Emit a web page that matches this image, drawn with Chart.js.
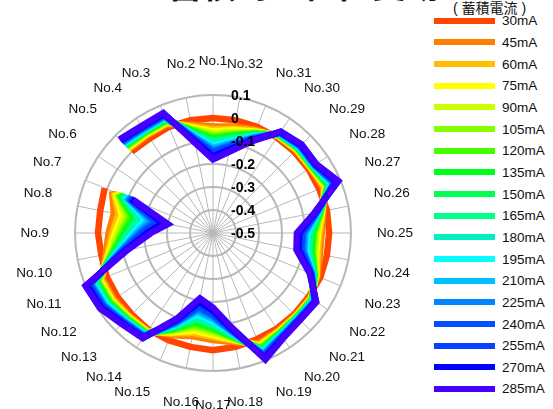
<!DOCTYPE html>
<html>
<head>
<meta charset="utf-8">
<script src="https://cdn.jsdelivr.net/npm/chart.js@4.4.1/dist/chart.umd.min.js"></script>
<style>
  html, body { margin: 0; padding: 0; background: #fff; overflow: hidden; }
  body { width: 553px; height: 409px; position: relative;
         font-family: "Liberation Sans", Arial, "Noto Sans CJK JP", sans-serif; color: #111; }
  #radar { position: absolute; left: 15px; top: 33px; }
  .title { position: absolute; font-weight: bold; white-space: nowrap; }
  #legendTitle { position: absolute; left: 453px; top: -3px; font-size: 14px; white-space: nowrap; }
  #legend { position: absolute; left: 434px; top: 10px; }
  .row { display: flex; align-items: center; height: 21.67px; font-size: 13.5px; }
  .sw { width: 61px; height: 6px; margin-right: 7px; }
</style>
</head>
<body>
<div class="title" style="left:66px; top:-33px; font-size:30px; line-height:30px">(a)</div>
<div class="title" style="left:168px; top:-31px; font-size:34px; line-height:34px">蓄積時の位置変動</div>
<div id="legendTitle">( 蓄積電流 )</div>
<div id="legend"></div>
<canvas id="radar" width="400" height="400"></canvas>

<script>
// 観測点 No.1 ～ No.32 (No.6 は欠測)
const points = Array.from({ length: 32 }, (_, i) => "No." + (i + 1));

const currents = ["30mA", "45mA", "60mA", "75mA", "90mA", "105mA", "120mA", "135mA", "150mA",
  "165mA", "180mA", "195mA", "210mA", "225mA", "240mA", "255mA", "270mA", "285mA"];

const colors = ["#ff4500", "#ff8000", "#ffbf00", "#ffff00", "#ccff00", "#88ff00", "#44ff00", "#00ff18",
  "#00ff50", "#00ff88", "#00f0c0", "#00ffff", "#00c0ff", "#0084ff", "#0050ff", "#0a40ff", "#0000ff", "#4400ff"];

// 位置変動 (No.1 → No.32)
const ma30  = [0, 0, 0, -0.005, 0, null, 0.01, 0, 0, -0.005, 0, 0, 0, 0.005, 0.005, 0.005, 0.01, 0.005, 0, 0, 0, 0, 0.005, 0.005, 0.005, 0.005, 0, 0, 0, 0, 0, 0];
const ma45  = [-0.036, -0.02, 0.013, 0.012, 0.015, null, -0.025, -0.06, -0.046, -0.024, 0.02, 0.018, 0.012, 0.01, -0.02, -0.042, -0.035, -0.016, 0.019, 0.01, 0.007, 0.008, -0.009, -0.026, -0.027, -0.01, 0.018, 0.008, 0.009, 0.006, -0.014, -0.028];
const ma60  = [-0.049, -0.027, 0.018, 0.016, 0.02, null, -0.034, -0.081, -0.062, -0.032, 0.027, 0.024, 0.016, 0.014, -0.027, -0.057, -0.047, -0.022, 0.026, 0.014, 0.009, 0.011, -0.012, -0.035, -0.036, -0.014, 0.024, 0.011, 0.012, 0.008, -0.019, -0.038];
const ma75  = [-0.058, -0.032, 0.021, 0.019, 0.024, null, -0.04, -0.096, -0.074, -0.038, 0.032, 0.029, 0.019, 0.016, -0.032, -0.067, -0.056, -0.026, 0.03, 0.016, 0.011, 0.013, -0.014, -0.042, -0.043, -0.016, 0.029, 0.013, 0.014, 0.01, -0.022, -0.045];
const ma90  = [-0.067, -0.037, 0.024, 0.022, 0.028, null, -0.046, -0.111, -0.085, -0.044, 0.037, 0.033, 0.022, 0.019, -0.037, -0.078, -0.065, -0.03, 0.035, 0.019, 0.013, 0.015, -0.017, -0.048, -0.05, -0.019, 0.033, 0.015, 0.017, 0.011, -0.026, -0.052];
const ma105 = [-0.076, -0.042, 0.027, 0.025, 0.032, null, -0.053, -0.126, -0.097, -0.05, 0.042, 0.038, 0.025, 0.021, -0.042, -0.088, -0.074, -0.034, 0.04, 0.021, 0.015, 0.017, -0.019, -0.055, -0.057, -0.021, 0.038, 0.017, 0.019, 0.013, -0.029, -0.059];
const ma120 = [-0.083, -0.046, 0.03, 0.028, 0.035, null, -0.058, -0.138, -0.106, -0.055, 0.046, 0.041, 0.028, 0.023, -0.046, -0.097, -0.081, -0.037, 0.044, 0.023, 0.016, 0.018, -0.021, -0.06, -0.062, -0.023, 0.041, 0.018, 0.021, 0.014, -0.032, -0.064];
const ma135 = [-0.09, -0.05, 0.033, 0.03, 0.038, null, -0.063, -0.15, -0.115, -0.06, 0.05, 0.045, 0.03, 0.025, -0.05, -0.105, -0.088, -0.04, 0.048, 0.025, 0.018, 0.02, -0.023, -0.065, -0.068, -0.025, 0.045, 0.02, 0.023, 0.015, -0.035, -0.07];
const ma150 = [-0.097, -0.054, 0.035, 0.032, 0.041, null, -0.068, -0.162, -0.124, -0.065, 0.054, 0.049, 0.032, 0.027, -0.054, -0.113, -0.095, -0.043, 0.051, 0.027, 0.019, 0.022, -0.024, -0.07, -0.073, -0.027, 0.049, 0.022, 0.024, 0.016, -0.038, -0.076];
const ma165 = [-0.104, -0.058, 0.038, 0.035, 0.044, null, -0.073, -0.174, -0.133, -0.07, 0.058, 0.052, 0.035, 0.029, -0.058, -0.122, -0.102, -0.046, 0.055, 0.029, 0.02, 0.023, -0.026, -0.075, -0.078, -0.029, 0.052, 0.023, 0.026, 0.017, -0.041, -0.081];
const ma180 = [-0.112, -0.062, 0.04, 0.037, 0.047, null, -0.078, -0.186, -0.143, -0.074, 0.062, 0.056, 0.037, 0.031, -0.062, -0.13, -0.109, -0.05, 0.059, 0.031, 0.022, 0.025, -0.028, -0.081, -0.084, -0.031, 0.056, 0.025, 0.028, 0.019, -0.043, -0.087];
const ma195 = [-0.121, -0.067, 0.044, 0.04, 0.05, null, -0.084, -0.201, -0.154, -0.08, 0.067, 0.06, 0.04, 0.034, -0.067, -0.141, -0.117, -0.054, 0.064, 0.034, 0.023, 0.027, -0.03, -0.087, -0.09, -0.034, 0.06, 0.027, 0.03, 0.02, -0.047, -0.094];
const ma210 = [-0.13, -0.072, 0.047, 0.043, 0.054, null, -0.09, -0.216, -0.166, -0.086, 0.072, 0.065, 0.043, 0.036, -0.072, -0.151, -0.126, -0.058, 0.068, 0.036, 0.025, 0.029, -0.032, -0.094, -0.097, -0.036, 0.065, 0.029, 0.032, 0.022, -0.05, -0.101];
const ma225 = [-0.139, -0.077, 0.05, 0.046, 0.058, null, -0.096, -0.231, -0.177, -0.092, 0.077, 0.069, 0.046, 0.039, -0.077, -0.162, -0.135, -0.062, 0.073, 0.039, 0.027, 0.031, -0.035, -0.1, -0.104, -0.039, 0.069, 0.031, 0.035, 0.023, -0.054, -0.108];
const ma240 = [-0.148, -0.082, 0.053, 0.049, 0.062, null, -0.103, -0.246, -0.189, -0.098, 0.082, 0.074, 0.049, 0.041, -0.082, -0.172, -0.144, -0.066, 0.078, 0.041, 0.029, 0.033, -0.037, -0.107, -0.111, -0.041, 0.074, 0.033, 0.037, 0.025, -0.057, -0.115];
const ma255 = [-0.157, -0.087, 0.057, 0.052, 0.065, null, -0.109, -0.261, -0.2, -0.104, 0.087, 0.078, 0.052, 0.044, -0.087, -0.183, -0.152, -0.07, 0.083, 0.044, 0.03, 0.035, -0.039, -0.113, -0.117, -0.044, 0.078, 0.035, 0.039, 0.026, -0.061, -0.122];
const ma270 = [-0.167, -0.093, 0.06, 0.056, 0.07, null, -0.116, -0.279, -0.214, -0.112, 0.093, 0.084, 0.056, 0.047, -0.093, -0.195, -0.163, -0.074, 0.088, 0.047, 0.033, 0.037, -0.042, -0.121, -0.126, -0.047, 0.084, 0.037, 0.042, 0.028, -0.065, -0.13];
const ma285 = [-0.18, -0.1, 0.065, 0.06, 0.075, null, -0.125, -0.3, -0.23, -0.12, 0.1, 0.09, 0.06, 0.05, -0.1, -0.21, -0.175, -0.08, 0.095, 0.05, 0.035, 0.04, -0.045, -0.13, -0.135, -0.05, 0.09, 0.04, 0.045, 0.03, -0.07, -0.14];

const series = [ma30, ma45, ma60, ma75, ma90, ma105, ma120, ma135, ma150,
  ma165, ma180, ma195, ma210, ma225, ma240, ma255, ma270, ma285];

const rMin = -0.5, rMax = 0.1, rStep = 0.1;

// No.1 が上、No.2 は左回り → Chart.js は右回りなので並べ替える
const ccw = arr => [arr[0], ...arr.slice(1).reverse()];

/* ---- tick labels to the right of the vertical axis ---- */
const tickLabelPlugin = {
  id: "tickLabels",
  afterDatasetsDraw(chart) {
    const scale = chart.scales.r;
    const ctx = chart.ctx;
    ctx.save();
    ctx.font = 'bold 14px "Liberation Sans", Arial';
    ctx.fillStyle = "#000";
    ctx.textAlign = "left";
    ctx.textBaseline = "middle";
    scale.ticks.forEach(t => {
      const y = scale.yCenter - scale.getDistanceFromCenterForValue(t.value);
      ctx.fillText(String(Math.round(t.value * 10) / 10), scale.xCenter + 18, y + 1.5);
    });
    ctx.restore();
  }
};

/* labels next to No.1 / No.17 sit centred on their spoke */
const centerLabelsPlugin = {
  id: "centerLabels",
  afterLayout(chart) {
    const items = chart.scales.r._pointLabelItems || [];
    const n = items.length;
    [1, n - 1, n / 2 - 1, n / 2 + 1].forEach(i => {
      if (items[i]) items[i].textAlign = "center";
    });
  }
};

const chart = new Chart(document.getElementById("radar"), {
  type: "radar",
  data: {
    labels: ccw(points),
    datasets: series.map((s, i) => ({
      label: currents[i],
      data: ccw(s),
      borderColor: colors[i],
      backgroundColor: colors[i],
      borderWidth: 6.5,
      borderJoinStyle: "miter",
      pointRadius: 0,
      fill: false,
      spanGaps: false,
      order: series.length - 1 - i
    }))
  },
  options: {
    responsive: false,
    animation: false,
    events: [],
    plugins: { legend: { display: false }, tooltip: { enabled: false } },
    scales: {
      r: {
        min: rMin,
        max: rMax,
        ticks: { display: false, stepSize: rStep },
        grid: { circular: true, color: "#b8b8b8", lineWidth: 2 },
        angleLines: { color: "#b8b8b8", lineWidth: 1 },
        pointLabels: {
          font: { family: '"Liberation Sans", Arial', size: 13.5 },
          color: "#111",
          padding: 26
        }
      }
    }
  },
  plugins: [tickLabelPlugin, centerLabelsPlugin]
});

/* ---- legend ---- */
const legendEl = document.getElementById("legend");
currents.forEach((name, i) => {
  const row = document.createElement("div");
  row.className = "row";
  row.innerHTML = `<span class="sw" style="background:${colors[i]}"></span><span>${name}</span>`;
  legendEl.appendChild(row);
});
</script>
</body>
</html>
